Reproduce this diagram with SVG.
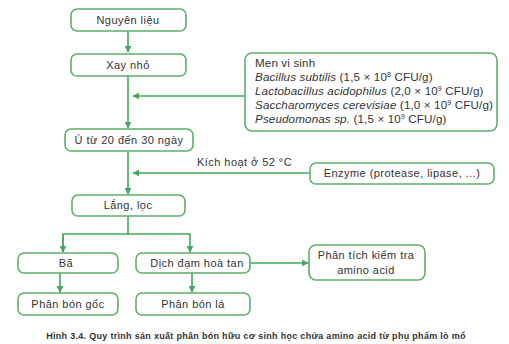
<svg xmlns="http://www.w3.org/2000/svg" width="509" height="344" viewBox="0 0 509 344">
<defs>
<style>
.box{fill:#fff;stroke:#5daf6c;stroke-width:1.6}
.t{font-family:"Liberation Sans",Arial,sans-serif;font-size:11px;letter-spacing:0.45px;fill:#333}
.m{font-size:11.6px;letter-spacing:0.15px}
.c{text-anchor:middle}
.ln{fill:none;stroke:#45a85c;stroke-width:1.6}
.cap{font-family:"Liberation Sans",Arial,sans-serif;font-size:9px;letter-spacing:0.3px;font-weight:bold;fill:#333;text-anchor:middle}
</style>
<marker id="ah2" viewBox="0 0 10 10" refX="9" refY="5" markerWidth="7" markerHeight="7" orient="auto" markerUnits="userSpaceOnUse"><path d="M0,0 L10,5 L0,10 z" fill="#45a85c"/></marker>
</defs>
<rect width="509" height="344" fill="#fff"/>
<g id="connectors">
<line class="ln" x1="128" y1="31" x2="128" y2="52" marker-end="url(#ah2)"/>
<line class="ln" x1="128" y1="76" x2="128" y2="128" marker-end="url(#ah2)"/>
<line class="ln" x1="245" y1="96" x2="133" y2="96" marker-end="url(#ah2)"/>
<line class="ln" x1="128" y1="151" x2="128" y2="194" marker-end="url(#ah2)"/>
<line class="ln" x1="310" y1="173" x2="133" y2="173" marker-end="url(#ah2)"/>
<text class="t" x="197" y="166">Kích hoạt ở 52 °C</text>
<polyline class="ln" points="128,216 128,234"/>
<polyline class="ln" points="63,252 63,234 190,234 190,252" marker-end="url(#ah2)"/>
<line class="ln" x1="63" y1="235" x2="63" y2="252" marker-end="url(#ah2)"/>
<line class="ln" x1="60" y1="273" x2="60" y2="292" marker-end="url(#ah2)"/>
<line class="ln" x1="192" y1="273" x2="192" y2="292" marker-end="url(#ah2)"/>
<line class="ln" x1="250" y1="263" x2="308" y2="263" marker-end="url(#ah2)"/>
</g>
<g id="n1"><rect class="box" x="71" y="9" width="115" height="22" rx="6"/><text class="t c" x="128" y="24">Nguyên liệu</text></g>
<g id="n2"><rect class="box" x="71" y="54" width="115" height="22" rx="6"/><text class="t c" x="128" y="69">Xay nhỏ</text></g>
<g id="n3"><rect class="box" x="245" y="53" width="252" height="78" rx="7"/>
<text class="t m" x="255" y="67">Men vi sinh</text>
<text class="t m" x="255" y="81"><tspan font-style="italic">Bacillus subtilis</tspan> (1,5 × 10<tspan font-size="7" dy="-4">8</tspan><tspan dy="4"> CFU/g)</tspan></text>
<text class="t m" x="255" y="95"><tspan font-style="italic">Lactobacillus acidophilus</tspan> (2,0 × 10<tspan font-size="7" dy="-4">9</tspan><tspan dy="4"> CFU/g)</tspan></text>
<text class="t m" x="255" y="109"><tspan font-style="italic">Saccharomyces cerevisiae</tspan> (1,0 × 10<tspan font-size="7" dy="-4">9</tspan><tspan dy="4"> CFU/g)</tspan></text>
<text class="t m" x="255" y="123"><tspan font-style="italic">Pseudomonas sp.</tspan> (1,5 × 10<tspan font-size="7" dy="-4">9</tspan><tspan dy="4"> CFU/g)</tspan></text>
</g>
<g id="n4"><rect class="box" x="65" y="129" width="128" height="22" rx="6"/><text class="t c" x="129" y="144">Ủ từ 20 đến 30 ngày</text></g>
<g id="n5"><rect class="box" x="310" y="163" width="184" height="21" rx="6"/><text class="t c" x="402" y="177">Enzyme (protease, lipase, ...)</text></g>
<g id="n6"><rect class="box" x="72" y="195" width="113" height="21" rx="6"/><text class="t c" x="128" y="209">Lắng, lọc</text></g>
<g id="n7"><rect class="box" x="18" y="253" width="100" height="20" rx="6"/><text class="t c" x="66" y="267">Bã</text></g>
<g id="n8"><rect class="box" x="136" y="253" width="114" height="20" rx="6"/><text class="t c" x="197" y="267">Dịch đạm hoà tan</text></g>
<g id="n9"><rect class="box" x="309" y="245" width="116" height="35" rx="7"/><text class="t c" x="366" y="259">Phân tích kiểm tra</text><text class="t c" x="366" y="274">amino acid</text></g>
<g id="n10"><rect class="box" x="18" y="293" width="100" height="22" rx="6"/><text class="t c" x="68" y="308">Phân bón gốc</text></g>
<g id="n11"><rect class="box" x="136" y="293" width="114" height="22" rx="6"/><text class="t c" x="193" y="308">Phân bón lá</text></g>
<text class="cap" x="256" y="339">Hình 3.4. Quy trình sản xuất phân bón hữu cơ sinh học chứa amino acid từ phụ phẩm lò mổ</text>
</svg>
